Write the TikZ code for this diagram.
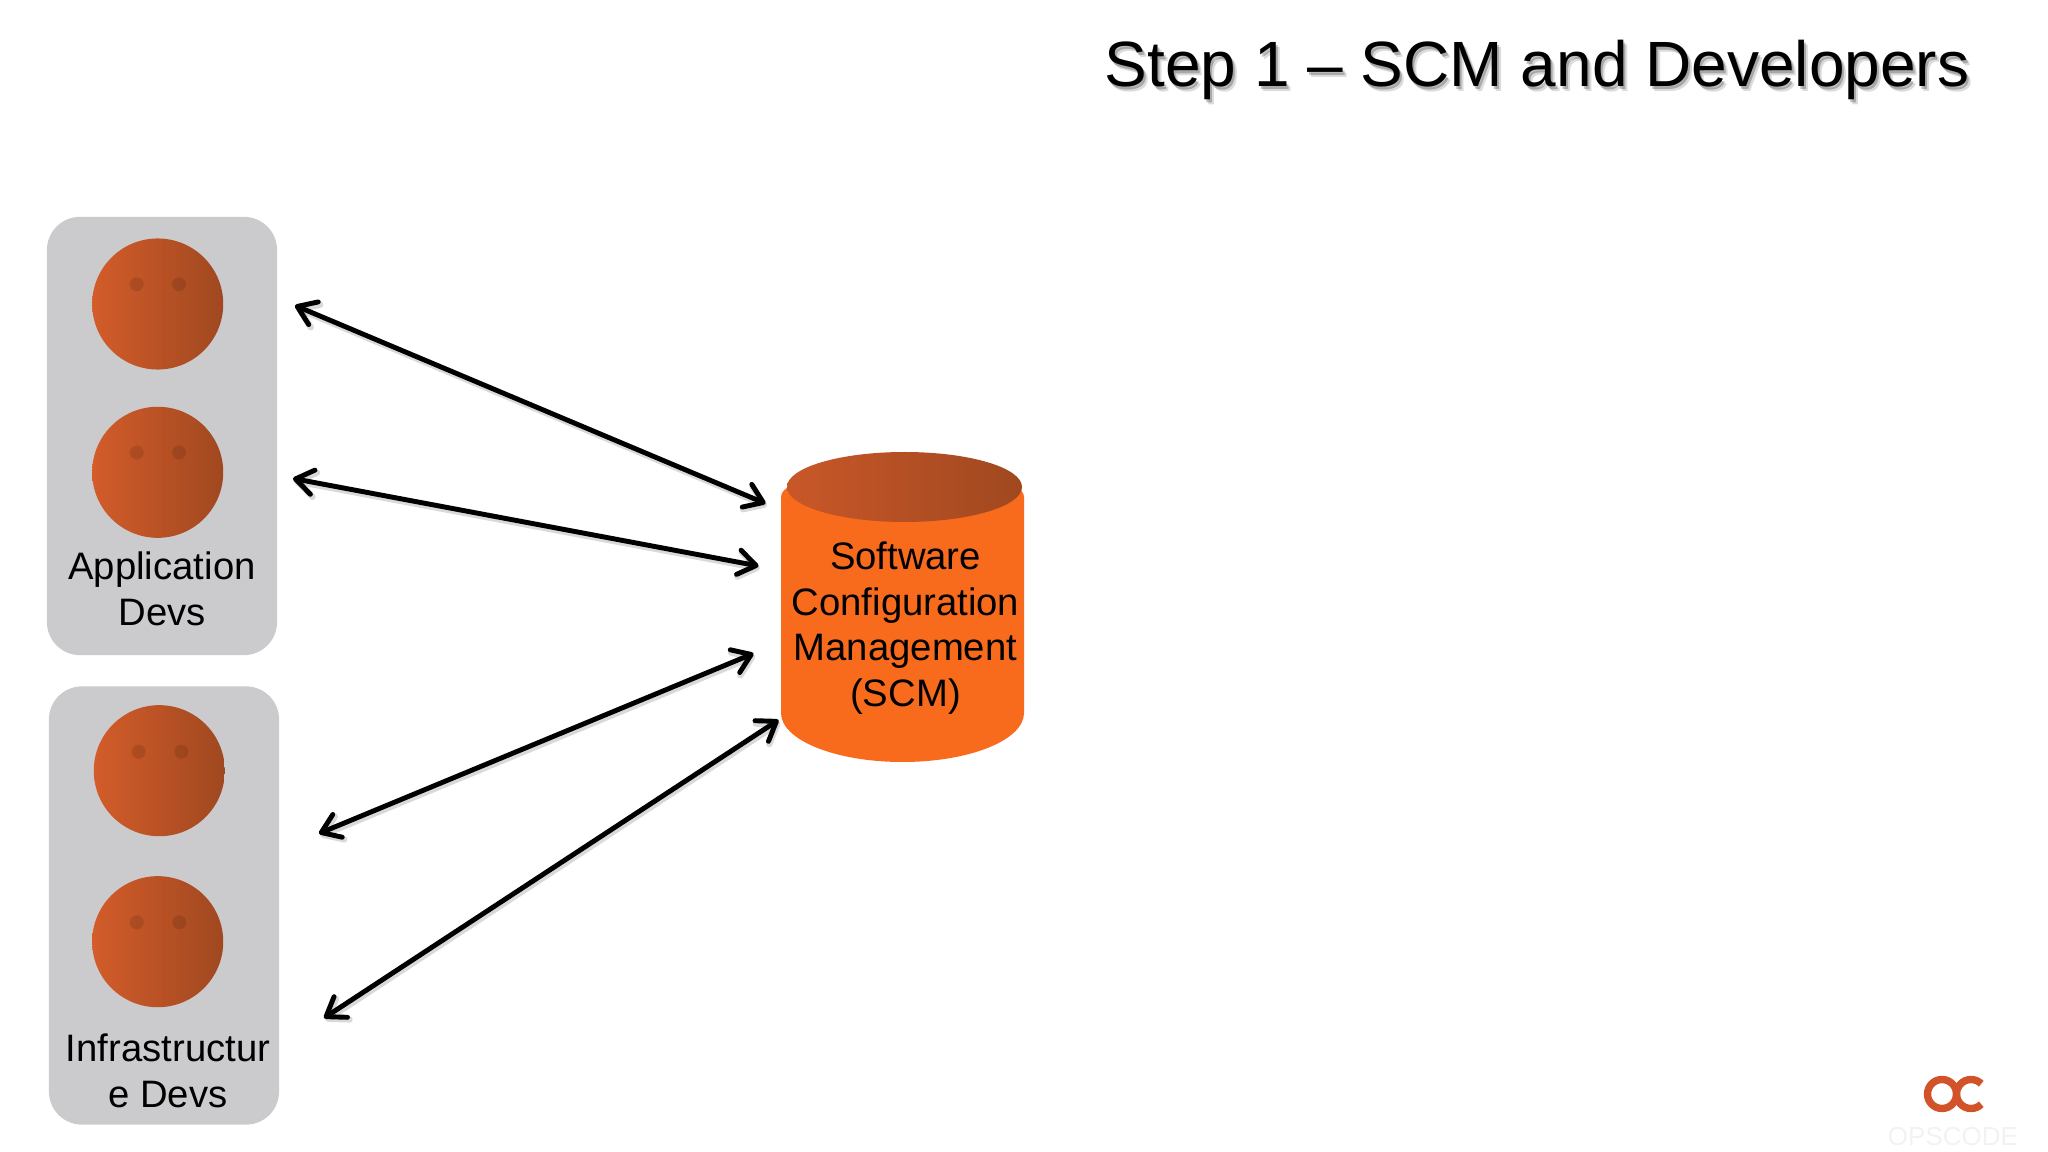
\documentclass[tikz,border=0pt]{standalone}
\usepackage{fontspec}
\setmainfont{Liberation Sans}
\usetikzlibrary{arrows.meta}
\definecolor{boxgray}{HTML}{CBCBCD}
\definecolor{faceL}{HTML}{D35C2A}
\definecolor{faceR}{HTML}{A04820}
\definecolor{scmbody}{HTML}{F96B1C}
\definecolor{logocol}{HTML}{D2522A}
\tikzset{
  devbox/.style={rectangle,fill=boxgray,rounded corners=0.33cm,minimum width=2.3cm,minimum height=4.38cm,inner sep=0pt},
  face/.style={circle,minimum size=1.31cm,inner sep=0pt,left color=faceL,right color=faceR},
  eye/.style={circle,minimum size=0.14cm,inner sep=0pt,fill=black,fill opacity=0.11},
  lbl/.style={font=\fontsize{10.88}{13}\selectfont,align=center,inner sep=0pt,anchor=base},
  ttl/.style={font=\fontsize{18.2}{22}\selectfont,inner sep=0pt,anchor=base east},
  barb/.tip={Straight Barb[length=5pt,width=7pt,round]},
  link/.style={line width=1.4pt,{barb}-{barb},
    preaction={draw=black,opacity=0.15,line width=1.8pt,transform canvas={shift={(0.4pt,-0.7pt)}}}},
}
\begin{document}
\begin{tikzpicture}[x=0.01cm,y=-0.01cm]
  \useasboundingbox (0,0) rectangle (2048,1152);

  % title, the grey copies are its shadow
  \node[ttl,opacity=0.14] (titleshadowb) at (1974,92) {Step 1 -- SCM and Developers};
  \node[ttl,opacity=0.24] (titleshadowa) at (1972,90) {Step 1 -- SCM and Developers};
  \node[ttl] (title) at (1970,87) {Step 1 -- SCM and Developers};

  % application devs
  \node[devbox] (appbox) at (162,436) {};
  \node[face] (app1) at (157.7,304) {};
  \node[eye] (app1l) at (136.7,284.3) {};
  \node[eye] (app1r) at (179,284.3) {};
  \node[face] (app2) at (157.7,472.3) {};
  \node[eye] (app2l) at (136.7,452.6) {};
  \node[eye] (app2r) at (179,452.6) {};
  \node[lbl] (applbl) at (162,625) {Application\\Devs};

  % infrastructure devs
  \node[devbox] (infbox) at (164,905.5) {};
  \node[face] (inf1) at (159.3,770.7) {};
  \node[eye] (inf1l) at (138.7,751.7) {};
  \node[eye] (inf1r) at (181.3,751.7) {};
  \node[face] (inf2) at (157.7,941.7) {};
  \node[eye] (inf2l) at (136.7,922.3) {};
  \node[eye] (inf2r) at (179.3,922.3) {};
  \node[lbl] (inflbl) at (168,1107) {Infrastructur\\e Devs};

  % scm cylinder
  \fill[scmbody] (781,497) -- (781,713) arc[start angle=180,end angle=0,x radius=121.5,y radius=49]
    -- (1024,497) arc[start angle=360,end angle=180,x radius=121.5,y radius=30] -- cycle;
  \shade[left color=faceL!95!black,right color=faceR] (904.5,487) ellipse[x radius=117.5,y radius=35];
  \node[lbl] (scmlbl) at (905.5,706.5) {Software\\Configuration\\Management\\(SCM)};

  % link ends
  \coordinate (a1s) at (295,305.5);
  \coordinate (a1e) at (765.5,503.5);
  \coordinate (a2s) at (293,478.5);
  \coordinate (a2e) at (758.5,566);
  \coordinate (a3s) at (319,833.5);
  \coordinate (a3e) at (753.5,653.5);
  \coordinate (a4s) at (324,1018);
  \coordinate (a4e) at (778.5,720);
  \draw[link] (a1s) -- (a1e);
  \draw[link] (a2s) -- (a2e);
  \draw[link] (a3s) -- (a3e);
  \draw[link] (a4s) -- (a4e);

  % logo
  \draw[logocol,line width=2.1pt] (1942,1094) circle[radius=14.5];
  \draw[logocol,line width=2.1pt] (1981.25,1083.75) arc[start angle=-45,end angle=-315,radius=14.5];
  \node[font=\fontsize{7.4}{9}\selectfont,text=black!5,inner sep=0pt,anchor=base] (logotxt) at (1953,1145) {OPSCODE};
\end{tikzpicture}
\end{document}
